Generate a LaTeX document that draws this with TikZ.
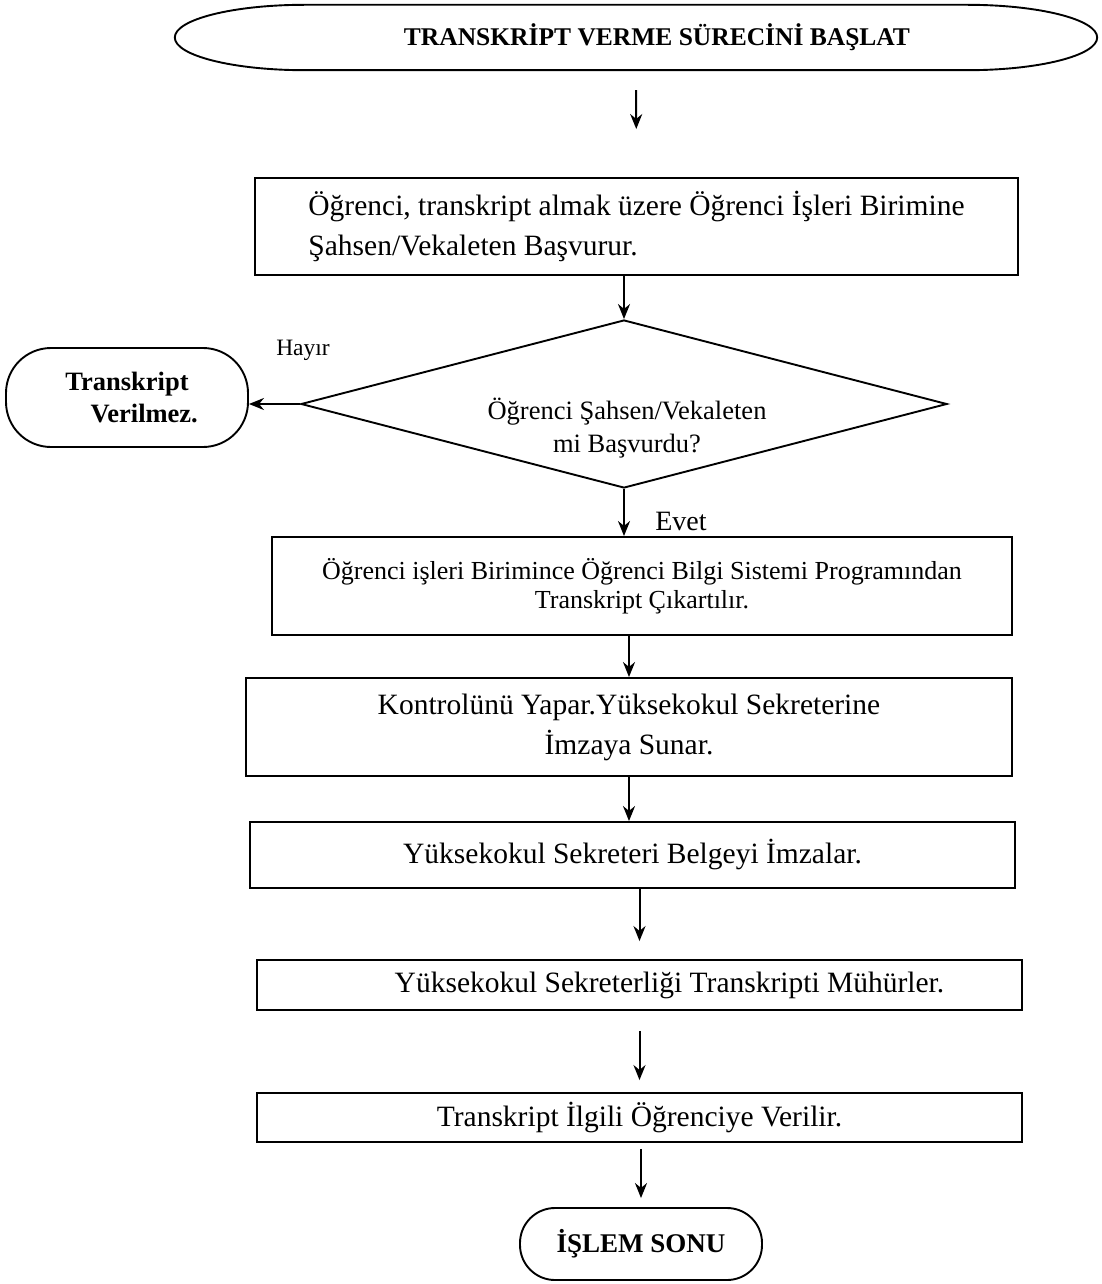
\documentclass[tikz,border=0pt]{standalone}
\usepackage{fontspec}
\setmainfont{Liberation Serif}
\usetikzlibrary{shapes.geometric, arrows.meta}

\begin{document}
\begin{tikzpicture}[
  x=1pt, y=-1pt,
  title/.style={
    inner sep=0pt, minimum width=922pt, minimum height=65pt,
    font=\fontsize{25.5}{30}\selectfont\bfseries
  },
  box/.style={
    draw, line width=1.9pt, align=center, inner sep=0pt,
    font=\fontsize{29.5}{40}\selectfont
  },
  decision/.style={
    draw, diamond, line width=1.9pt, aspect=3.85, inner sep=0pt,
    minimum width=646pt, minimum height=168pt
  },
  terminal/.style={
    draw, line width=1.9pt, rounded corners=45pt, align=center,
    font=\fontsize{26.5}{32}\selectfont\bfseries
  },
  lbl/.style={font=\fontsize{23.5}{28}\selectfont},
  arrow/.style={-{Stealth[length=15pt, width=12pt]}, line width=2pt},
]
\path[fill=white, use as bounding box] (0,0) rectangle (1101,1284);

\node[title] (start) at (636,37.5) {\hspace*{42pt}TRANSKRİPT VERME SÜRECİNİ BAŞLAT};
% outline of the start terminal
\draw[line width=1.9pt] (start.west)
  .. controls ([yshift=18pt]start.west) and ([xshift=58pt]start.north west) .. ([xshift=130pt]start.north west)
  -- ([xshift=-130pt]start.north east)
  .. controls ([xshift=-58pt]start.north east) and ([yshift=18pt]start.east) .. (start.east)
  .. controls ([yshift=-18pt]start.east) and ([xshift=-58pt]start.south east) .. ([xshift=-130pt]start.south east)
  -- ([xshift=130pt]start.south west)
  .. controls ([xshift=58pt]start.south west) and ([yshift=-18pt]start.west) .. cycle;

\node[box, minimum width=763pt, minimum height=97pt, align=left] (apply) at (636.5,226.5)
  {Öğrenci, transkript almak üzere Öğrenci İşleri Birimine\\Şahsen/Vekaleten Başvurur.};

\node[decision] (check) at (624,404) {};
\node[font=\fontsize{26.5}{33}\selectfont, align=center] (question) at (627,428)
  {Öğrenci Şahsen/Vekaleten\\mi Başvurdu?};

\node[terminal, minimum width=242pt, minimum height=99pt] (refuse) at (127,397.5)
  {Transkript\\\hspace*{1.3em}Verilmez.};
\node[lbl] (no) at (303,350) {Hayır};
\node[lbl, font=\fontsize{28}{30}\selectfont] (yes) at (681,521) {Evet};

\node[box, minimum width=740pt, minimum height=98pt, font=\fontsize{26}{29}\selectfont] (output) at (642,586)
  {Öğrenci işleri Birimince Öğrenci Bilgi Sistemi Programından\\Transkript Çıkartılır.};
\node[box, minimum width=766pt, minimum height=98pt] (control) at (629,727)
  {Kontrolünü Yapar.Yüksekokul Sekreterine\\İmzaya Sunar.};
\node[box, minimum width=765pt, minimum height=66pt] (sign) at (632.5,855)
  {Yüksekokul Sekreteri Belgeyi İmzalar.};
\node[box, minimum width=765pt, minimum height=50pt] (seal) at (639.5,985)
  {\hspace*{60pt}Yüksekokul Sekreterliği Transkripti Mühürler.};
\node[box, minimum width=765pt, minimum height=49pt] (deliver) at (639.5,1117.5)
  {Transkript İlgili Öğrenciye Verilir.};
\node[terminal, rounded corners=35pt, minimum width=242pt, minimum height=72pt,
  font=\fontsize{27}{30}\selectfont\bfseries] (finish) at (641,1244) {İŞLEM SONU};

\draw[arrow, shorten <=20pt, shorten >=48pt] (start.south) -- (apply.north);
\draw[arrow] (check.north |- apply.south) -- (check.north);
\draw[arrow] (check.west) -- (check.west -| refuse.east);
\draw[arrow] (check.south) -- (check.south |- output.north);
\draw[arrow] (output.south -| control.north) -- (control.north);
\draw[arrow] (control.south) -- (control.south |- sign.north);
\draw[arrow, shorten >=18pt] (sign.south -| seal.north) -- (seal.north);
\draw[arrow, shorten <=20pt, shorten >=12pt] (seal.south) -- (deliver.north);
\draw[arrow, shorten <=6pt, shorten >=9pt] (deliver.south -| finish.north) -- (finish.north);

\end{tikzpicture}
\end{document}
